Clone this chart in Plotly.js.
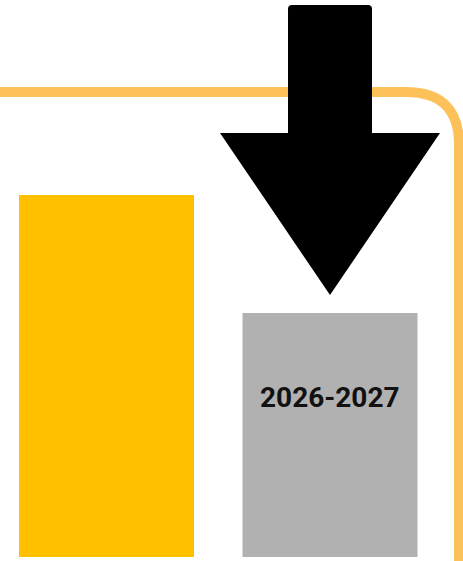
<!DOCTYPE html>
<html>
<head>
<meta charset="utf-8">
<script src="https://cdn.plot.ly/plotly-3.0.1.min.js"></script>
<style>html,body{margin:0;padding:0;background:#fff;}#chart{width:463px;height:561px;}</style>
</head>
<body>
<div id="chart"></div>
<script>
// Data
const categories = ["2024-2025", "2026-2027"];
const values = [100, 67.4];
const barColors = ["#FFC000", "#B1B1B1"];
const barLabels = ["", "2026-2027"];

const W = 463, H = 561;
const xIdx = categories.map((_, i) => i);

// axis ranges (hidden axes)
const yPerPx = 100 / 362;
const yRange = [-4 * yPerPx, 557 * yPerPx];
const xPerPx = 1 / 223.5;
const xRange = [-106.5 * xPerPx, 1 + (W - 330) * xPerPx];

// decorative orange frame line (paper coords from pixels)
const px = x => (x / W).toFixed(4);
const py = y => (1 - y / H).toFixed(4);
const framePath = `M ${px(-20)},${py(92)} L ${px(406)},${py(92)} Q ${px(459)},${py(92)} ${px(459)},${py(145)} L ${px(459)},${py(600)}`;

// arrow pointing to the second bar (data coords)
const cx = xIdx[1];
const shaftHalf = 42 * xPerPx, headHalf = 110 * xPerPx, r = 4 * xPerPx, ry = 4 * yPerPx;
const yTop = yRange[1] - 5 * yPerPx;
const yHead = yRange[1] - 133 * yPerPx;
const yTip = values[1] + 18 * yPerPx;
const arrowPath = `M ${cx - shaftHalf},${yHead} L ${cx - shaftHalf},${yTop - ry} Q ${cx - shaftHalf},${yTop} ${cx - shaftHalf + r},${yTop} L ${cx + shaftHalf - r},${yTop} Q ${cx + shaftHalf},${yTop} ${cx + shaftHalf},${yTop - ry} L ${cx + shaftHalf},${yHead} L ${cx + headHalf},${yHead} L ${cx},${yTip} L ${cx - headHalf},${yHead} Z`;

const trace = {
  type: "bar",
  x: xIdx,
  y: values,
  width: 175 * xPerPx,
  marker: { color: barColors, line: { width: 0 } },
  textposition: "none",
  hoverinfo: "skip"
};

const layout = {
  width: W, height: H,
  margin: { l: 0, r: 0, t: 0, b: 0, pad: 0 },
  paper_bgcolor: "#ffffff",
  plot_bgcolor: "#ffffff",
  showlegend: false,
  xaxis: { range: xRange, visible: false, fixedrange: true },
  yaxis: { range: yRange, visible: false, fixedrange: true },
  shapes: [
    { type: "path", xref: "paper", yref: "paper", path: framePath,
      line: { color: "#FDC15A", width: 10 }, fillcolor: "rgba(0,0,0,0)", layer: "below" },
    { type: "path", xref: "x", yref: "y", path: arrowPath,
      line: { width: 0 }, fillcolor: "#000000", layer: "above" }
  ],
  annotations: [
    { x: xIdx[1], y: values[1] * 0.655, xref: "x", yref: "y", text: "<b>" + barLabels[1] + "</b>",
      showarrow: false, font: { family: "Roboto, 'DejaVu Sans', sans-serif", size: 28, color: "#111111" },
      xanchor: "center", yanchor: "middle" }
  ]
};

Plotly.newPlot("chart", [trace], layout, { displayModeBar: false, staticPlot: true });
</script>
</body>
</html>
